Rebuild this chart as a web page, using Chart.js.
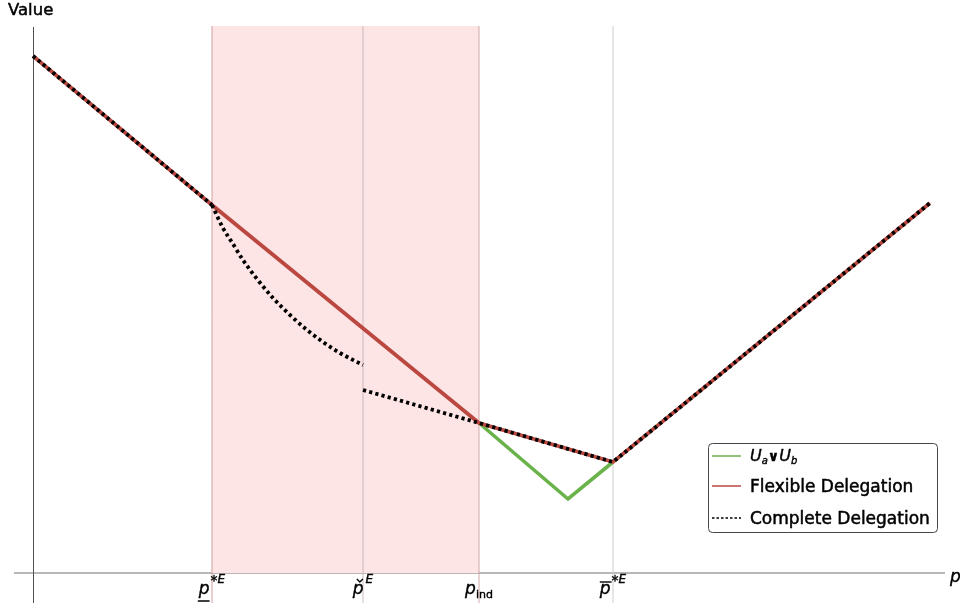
<!DOCTYPE html>
<html>
<head>
<meta charset="utf-8">
<script src="https://cdn.jsdelivr.net/npm/chart.js@4.4.1/dist/chart.umd.min.js"></script>
<style>
  html, body { margin: 0; padding: 0; background: #ffffff; }
  #wrap { width: 960px; height: 609px; position: relative; }
</style>
</head>
<body>
<div id="wrap"><canvas id="chart" width="960" height="609"></canvas></div>
<script>
// Plot range (data units)
const X_MIN = -0.19, X_MAX = 9.12;
const Y_MIN = -0.30, Y_MAX = 5.47;

// Threshold prices marked on the p axis
const tickValues = [1.79, 3.30, 4.46, 5.80];   // p*E (lower), p-check E, p_ind, p*E (upper)
const tickColors = ['rgba(205,150,150,0.9)', 'rgba(200,180,180,0.9)', 'rgba(205,160,160,0.9)', 'rgba(200,200,200,0.9)'];

// Shaded interval [p*E lower, p_ind]
const bandX = [1.79, 4.46];

// Flexible delegation value
const flexibleX = [0, 1.79, 4.46, 5.80, 8.97];
const flexibleY = [5.17, 3.68, 1.50, 1.11, 3.70];

// Complete delegation value: straight pieces (gap where the curved piece sits)
const completeX = [0, 1.79, 2.5, 3.30, 4.46, 5.80, 8.97];
const completeY = [5.17, 3.68, null, 1.83, 1.50, 1.11, 3.70];

// Complete delegation value: curved piece between p*E (lower) and p-check E
const completeCurveX = [1.79, 1.90, 2.00, 2.10, 2.24, 2.40, 2.57, 2.74, 2.90, 3.07, 3.30];
const completeCurveY = [3.68, 3.45, 3.29, 3.13, 2.94, 2.75, 2.58, 2.43, 2.31, 2.20, 2.08];

// Upper envelope U_a v U_b between p_ind and upper p*E
const envelopeX = [4.46, 5.35, 5.80];
const envelopeY = [1.50, 0.74, 1.11];

const RED = 'rgb(186,72,64)';
const GREEN = 'rgb(106,178,74)';
const BLACK = 'rgb(0,0,0)';

const zip = (xs, ys) => xs.map((x, i) => ({ x: x, y: ys[i] }));

const FONT = '"DejaVu Sans", sans-serif';

// Text with a hairline outline so it reads a little heavier than the regular face
function heavyText(ctx, t, x, y, weight) {
  ctx.fillText(t, x, y);
  ctx.save();
  ctx.lineWidth = weight;
  ctx.strokeStyle = ctx.fillStyle;
  ctx.lineJoin = 'round';
  ctx.strokeText(t, x, y);
  ctx.restore();
}

// Draw a run of text pieces with individual fonts and vertical offsets
function drawRich(ctx, cx, baseY, parts, align, weight) {
  let w = 0;
  parts.forEach(p => { ctx.font = p.font; p.w = ctx.measureText(p.t).width + (p.gap || 0); w += p.w; });
  let x = align === 'left' ? cx : cx - w / 2;
  parts.forEach(p => {
    ctx.font = p.font;
    heavyText(ctx, p.t, x, baseY + (p.dy || 0), weight || 0.4);
    p.x0 = x;
    x += p.w;
  });
  return parts;
}

const gridDatasets = tickValues.map((v, i) => ({
  label: 'grid' + i,
  data: [{ x: v, y: Y_MIN }, { x: v, y: Y_MAX }],
  borderColor: tickColors[i],
  borderWidth: 1,
  pointRadius: 0,
  fill: false,
  order: 3
}));

const dotted = {
  borderColor: BLACK,
  borderWidth: 3.8,
  borderDash: [3.2, 3.2],
  borderCapStyle: 'butt',
  pointRadius: 0,
  fill: false,
  order: 0
};

const decorations = {
  id: 'decorations',
  beforeDatasetsDraw(chart) {
    const { ctx, chartArea, scales } = chart;
    const x0 = scales.x.getPixelForValue(0);
    const y0 = scales.y.getPixelForValue(0);
    ctx.save();
    // p axis
    ctx.strokeStyle = 'rgb(160,160,160)';
    ctx.lineWidth = 1.5;
    ctx.beginPath();
    ctx.moveTo(chartArea.left, y0);
    ctx.lineTo(chartArea.right, y0);
    ctx.stroke();
    // value axis
    ctx.strokeStyle = 'rgb(80,80,80)';
    ctx.lineWidth = 1;
    ctx.beginPath();
    ctx.moveTo(Math.round(x0) + 0.5, chartArea.top + 1);
    ctx.lineTo(Math.round(x0) + 0.5, chartArea.bottom);
    ctx.stroke();
    ctx.restore();
  },
  afterDraw(chart) {
    const { ctx, scales } = chart;
    const y0 = scales.y.getPixelForValue(0);
    const base = y0 + 21;
    ctx.save();
    ctx.fillStyle = '#000';
    ctx.textBaseline = 'alphabetic';
    const pFont = 'italic 17px ' + FONT;
    const supFont = 'italic 12px ' + FONT;
    const starFont = '14px ' + FONT;
    const subFont = '11px ' + FONT;

    // lower p*E : underlined p
    let px = scales.x.getPixelForValue(tickValues[0]);
    let parts = drawRich(ctx, px, base, [
      { t: 'p', font: pFont, gap: 1 },
      { t: '*', font: starFont, dy: -9 },
      { t: 'E', font: supFont, dy: -11 }
    ]);
    ctx.lineWidth = 1.5;
    ctx.strokeStyle = '#000';
    ctx.beginPath();
    ctx.moveTo(parts[0].x0 - 1, base + 7);
    ctx.lineTo(parts[0].x0 + parts[0].w - 1, base + 7);
    ctx.stroke();

    // p-check E : caron over p
    px = scales.x.getPixelForValue(tickValues[1]);
    parts = drawRich(ctx, px, base, [
      { t: 'p', font: pFont, gap: 2 },
      { t: 'E', font: supFont, dy: -11 }
    ]);
    {
      const cx = parts[0].x0 + parts[0].w * 0.55;
      const cy = base - 12;
      ctx.lineWidth = 1.4;
      ctx.beginPath();
      ctx.moveTo(cx - 3, cy - 3);
      ctx.lineTo(cx, cy);
      ctx.lineTo(cx + 3, cy - 3);
      ctx.stroke();
    }

    // p_ind
    px = scales.x.getPixelForValue(tickValues[2]);
    drawRich(ctx, px, base, [
      { t: 'p', font: pFont, gap: 0 },
      { t: 'ind', font: subFont, dy: 4 }
    ]);

    // upper p*E : overlined p
    px = scales.x.getPixelForValue(tickValues[3]);
    parts = drawRich(ctx, px, base, [
      { t: 'p', font: pFont, gap: 1 },
      { t: '*', font: starFont, dy: -9 },
      { t: 'E', font: supFont, dy: -11 }
    ]);
    ctx.beginPath();
    ctx.moveTo(parts[0].x0, base - 12);
    ctx.lineTo(parts[0].x0 + parts[0].w, base - 12);
    ctx.stroke();

    // axis labels
    ctx.font = '16.5px ' + FONT;
    heavyText(ctx, 'Value', 8, 15, 0.5);
    ctx.font = 'italic 17px ' + FONT;
    heavyText(ctx, 'p', 950, y0 + 9, 0.4);

    // legend
    const L = 708, T = 443, R = 937, B = 532, rad = 4;
    ctx.fillStyle = '#fff';
    ctx.strokeStyle = 'rgb(70,70,70)';
    ctx.lineWidth = 1;
    ctx.beginPath();
    ctx.roundRect(L + 0.5, T + 0.5, R - L, B - T, rad);
    ctx.fill();
    ctx.stroke();

    const rows = [456, 486, 518];
    const swatch = [
      { c: GREEN, dash: [] },
      { c: RED, dash: [] },
      { c: BLACK, dash: [2.5, 2] }
    ];
    rows.forEach((ry, i) => {
      ctx.strokeStyle = swatch[i].c;
      ctx.lineWidth = 1.5;
      ctx.setLineDash(swatch[i].dash);
      ctx.beginPath();
      ctx.moveTo(712, ry);
      ctx.lineTo(741, ry);
      ctx.stroke();
    });
    ctx.setLineDash([]);
    ctx.fillStyle = '#000';
    drawRich(ctx, 750, rows[0] + 5, [
      { t: 'U', font: 'italic 16px ' + FONT },
      { t: 'a', font: 'italic 10px ' + FONT, dy: 3 },
      { t: '\u2228', font: 'bold 14px ' + FONT, gap: 0 },
      { t: 'U', font: 'italic 16px ' + FONT },
      { t: 'b', font: 'italic 10px ' + FONT, dy: 3 }
    ], 'left', 0.4);
    ctx.font = '17px ' + FONT;
    heavyText(ctx, 'Flexible Delegation', 750, rows[1] + 6, 0.5);
    heavyText(ctx, 'Complete Delegation', 750, rows[2] + 6, 0.5);
    ctx.restore();
  }
};

new Chart(document.getElementById('chart'), {
  type: 'line',
  data: {
    datasets: [
      Object.assign({ label: 'Complete Delegation', data: zip(completeX, completeY), spanGaps: false }, dotted),
      Object.assign({ label: 'Complete Delegation (curve)', data: zip(completeCurveX, completeCurveY), cubicInterpolationMode: 'monotone' }, dotted),
      {
        label: 'Flexible Delegation',
        data: zip(flexibleX, flexibleY),
        borderColor: RED,
        borderWidth: 3.8,
        pointRadius: 0,
        fill: false,
        order: 1
      },
      {
        label: 'U_a v U_b',
        data: zip(envelopeX, envelopeY),
        borderColor: GREEN,
        borderWidth: 3.6,
        pointRadius: 0,
        fill: false,
        order: 2
      },
      ...gridDatasets,
      {
        label: 'band',
        data: bandX.map(x => ({ x: x, y: Y_MAX })),
        borderWidth: 0,
        borderColor: 'rgba(0,0,0,0)',
        backgroundColor: 'rgb(253,228,229)',
        pointRadius: 0,
        fill: 'origin',
        order: 4
      }
    ]
  },
  options: {
    responsive: false,
    animation: false,
    events: [],
    layout: { padding: { left: 14, right: 15, top: 26, bottom: 6 } },
    plugins: {
      legend: { display: false },
      tooltip: { enabled: false }
    },
    scales: {
      x: { type: 'linear', min: X_MIN, max: X_MAX, display: false },
      y: { type: 'linear', min: Y_MIN, max: Y_MAX, display: false }
    }
  },
  plugins: [decorations]
});
</script>
</body>
</html>
